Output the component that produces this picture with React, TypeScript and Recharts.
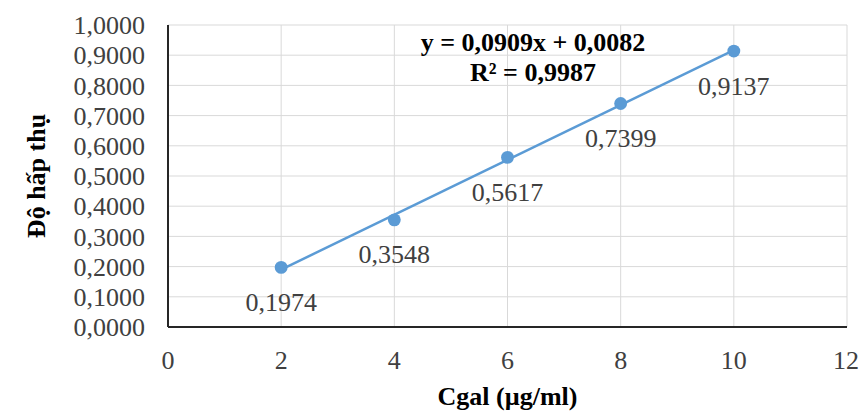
import React from "react";
import {
  ScatterChart,
  Scatter,
  XAxis,
  YAxis,
  ZAxis,
  CartesianGrid,
  ReferenceLine,
  LabelList,
} from "recharts";

// concentrations (µg/ml) and absorbances
const concentrations = [2, 4, 6, 8, 10];
const absorbances = [0.1974, 0.3548, 0.5617, 0.7399, 0.9137];

const xTicks = [0, 2, 4, 6, 8, 10, 12];
const yTicks = [0, 0.1, 0.2, 0.3, 0.4, 0.5, 0.6, 0.7, 0.8, 0.9, 1.0];

// linear trendline as printed on the chart
const slope = 0.0909;
const intercept = 0.0082;
const rSquared = 0.9987;
const trendRange = [2, 10];

const FONT = "'Liberation Serif', 'Times New Roman', serif";
const BLUE = "#5B9BD5";
const TEXT = "#404040";
const FS = 26;

const data = concentrations.map((x, i) => ({ x, y: absorbances[i] }));
const trendSegment = trendRange.map((x) => ({ x, y: slope * x + intercept }));

const fmtComma = (v: number, digits: number) => v.toFixed(digits).replace(".", ",");

const PointLabel = (props: any) => {
  const { x, y, width, height, value } = props;
  const cx = x + (width || 0) / 2;
  const cy = y + (height || 0) / 2;
  return (
    <text
      x={cx}
      y={cy + 35}
      textAnchor="middle"
      dominantBaseline="central"
      fill={TEXT}
      fontSize={FS}
      fontFamily={FONT}
    >
      {fmtComma(value, 4)}
    </text>
  );
};

export default function App() {
  return (
    <div style={{ position: "absolute", left: 0, top: 0, width: 859, height: 413, background: "#fff" }}>
      <ScatterChart width={859} height={413} margin={{ top: 25, right: 12, bottom: 0, left: 0 }}>
        <CartesianGrid stroke="#d9d9d9" strokeWidth={1} />
        <XAxis
          type="number"
          dataKey="x"
          domain={[0, 12]}
          ticks={xTicks}
          height={86}
          tickLine={false}
          tickMargin={18}
          axisLine={{ stroke: "#262626", strokeWidth: 2 }}
          tick={{ fill: TEXT, fontSize: FS, fontFamily: FONT }}
          label={{
            value: "Cgal (µg/ml)",
            position: "insideBottom",
            offset: 8,
            style: { fill: "#000", fontSize: FS, fontWeight: "bold", fontFamily: FONT },
          }}
        />
        <YAxis
          type="number"
          dataKey="y"
          domain={[0, 1]}
          ticks={yTicks}
          width={168}
          tickLine={false}
          tickMargin={17}
          interval={0}
          axisLine={{ stroke: "#262626", strokeWidth: 2 }}
          tickFormatter={(v: number) => fmtComma(v, 4)}
          tick={{ fill: TEXT, fontSize: FS, fontFamily: FONT }}
          label={{
            value: "Độ hấp thụ",
            angle: -90,
            position: "insideLeft",
            offset: 36,
            style: { fill: "#000", fontSize: FS, fontWeight: "bold", fontFamily: FONT, textAnchor: "middle" },
          }}
        />
        <ZAxis range={[130, 130]} />
        <ReferenceLine
          segment={trendSegment}
          stroke={BLUE}
          strokeWidth={2.5}
          ifOverflow="extendDomain"
        />
        <Scatter data={data} fill={BLUE} isAnimationActive={false} shape="circle">
          <LabelList dataKey="y" content={PointLabel} />
        </Scatter>
      </ScatterChart>
      <div
        style={{
          position: "absolute",
          left: 383,
          top: 28,
          width: 300,
          textAlign: "center",
          fontFamily: FONT,
          fontWeight: "bold",
          fontSize: FS,
          lineHeight: "30px",
          color: "#000",
        }}
      >
        <div>y = {fmtComma(slope, 4)}x + {fmtComma(intercept, 4)}</div>
        <div>R² = {fmtComma(rSquared, 4)}</div>
      </div>
    </div>
  );
}
